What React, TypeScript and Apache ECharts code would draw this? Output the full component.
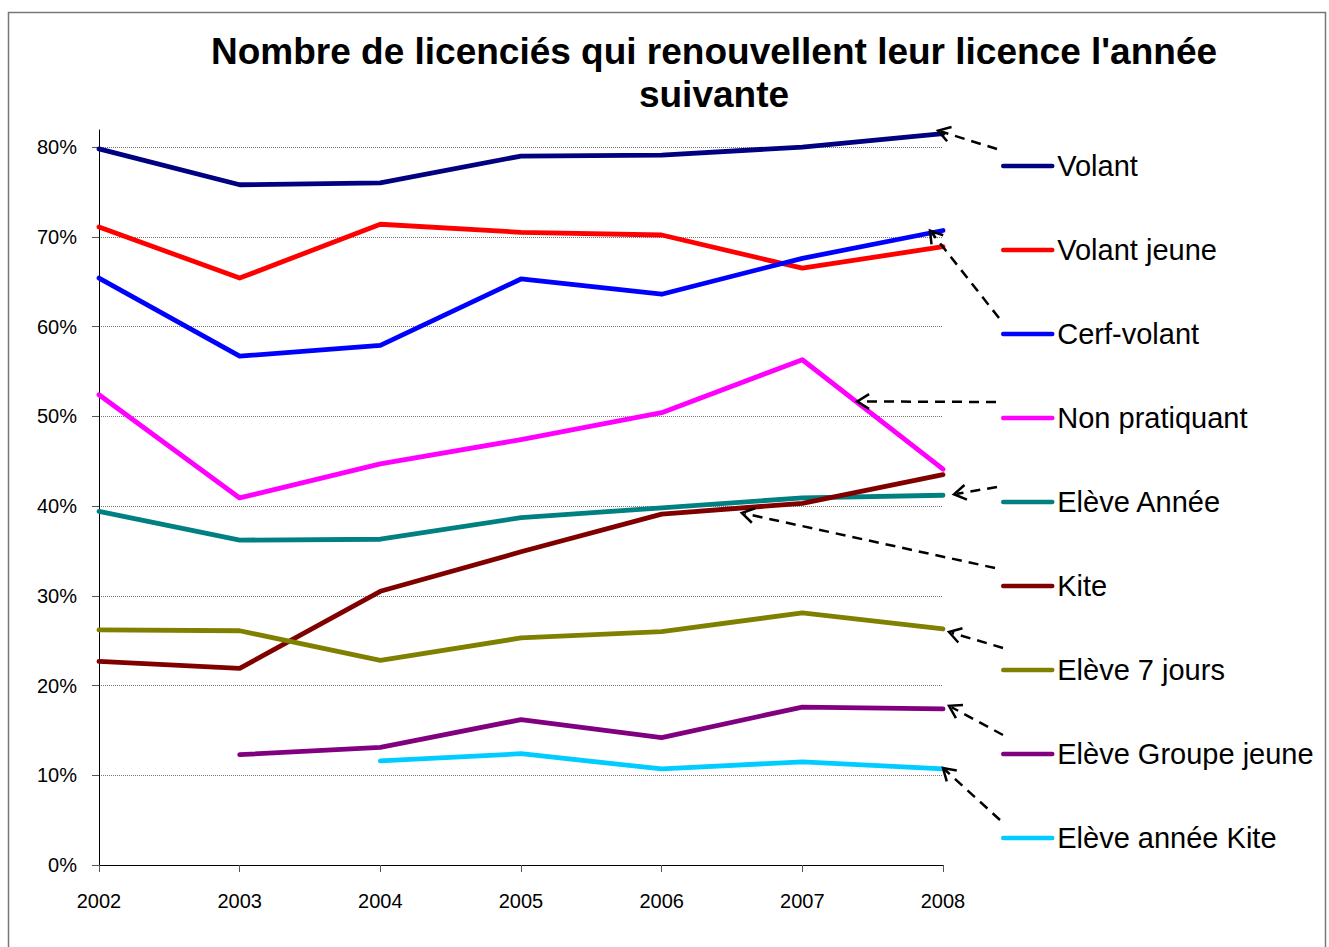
import React, { useEffect, useRef } from 'react';
import * as echarts from 'echarts';

const FONT = "'Liberation Sans', Arial, Helvetica, sans-serif";

const years = ['2002', '2003', '2004', '2005', '2006', '2007', '2008'];
const seriesNames = [
  'Volant',
  'Volant jeune',
  'Cerf-volant',
  'Non pratiquant',
  'Elève Année',
  'Kite',
  'Elève 7 jours',
  'Elève Groupe jeune',
  'Elève année Kite',
];
const volant = [0.798, 0.758, 0.76, 0.79, 0.791, 0.8, 0.815];
const volantJeune = [0.711, 0.654, 0.714, 0.705, 0.702, 0.665, 0.689];
const cerfVolant = [0.654, 0.567, 0.579, 0.653, 0.636, 0.676, 0.707];
const nonPratiquant = [0.524, 0.409, 0.447, 0.474, 0.504, 0.563, 0.441];
const eleveAnnee = [0.394, 0.362, 0.363, 0.387, 0.398, 0.409, 0.412];
const kite = [0.227, 0.219, 0.305, 0.349, 0.391, 0.403, 0.435];
const eleve7Jours = [0.262, 0.261, 0.228, 0.253, 0.26, 0.281, 0.263];
const eleveGroupeJeune = [null, 0.123, 0.131, 0.162, 0.142, 0.176, 0.174];
const eleveAnneeKite = [null, null, 0.116, 0.124, 0.107, 0.115, 0.107];
const seriesValues = [
  volant,
  volantJeune,
  cerfVolant,
  nonPratiquant,
  eleveAnnee,
  kite,
  eleve7Jours,
  eleveGroupeJeune,
  eleveAnneeKite,
];
const colors = ['#000080', '#FF0000', '#0000FF', '#FF00FF', '#008080', '#800000', '#808000', '#800080', '#00CCFF'];

// annotation arrows: series, segment [from,to] with fraction, tip offset, legend item, start offset from legend item
const arrows = [
  { s: 0, from: 6, to: 6, f: 0, tdx: -5, tdy: -3, item: 0, sdx: -4, sdy: -17 },
  { s: 2, from: 6, to: 6, f: 0, tdx: -13, tdy: 0, item: 2, sdx: -2, sdy: -16 },
  { s: 3, from: 5, to: 6, f: 0.39, tdx: 0, tdy: -1, item: 3, sdx: -5, sdy: -16 },
  { s: 4, from: 6, to: 6, f: 0, tdx: 11, tdy: -1, item: 4, sdx: -4, sdy: -15 },
  { s: 5, from: 4, to: 5, f: 0.57, tdx: 0, tdy: 5, item: 5, sdx: -6, sdy: -18 },
  { s: 6, from: 6, to: 6, f: 0, tdx: 6, tdy: 3, item: 6, sdx: 2, sdy: -22 },
  { s: 7, from: 6, to: 6, f: 0, tdx: 6, tdy: -3, item: 7, sdx: 2, sdy: -19 },
  { s: 8, from: 6, to: 6, f: 0, tdx: 0, tdy: -1, item: 8, sdx: -1, sdy: -18 },
];

const LEGEND_LEFT = 1001;
const LEGEND_TOP = 151;
const ITEM_H = 30;
const ITEM_GAP = 54;

export default function App() {
  const ref = useRef<HTMLDivElement>(null);

  useEffect(() => {
    if (!ref.current) return;
    const chart = echarts.init(ref.current, undefined, { renderer: 'svg' });
    chart.setOption({
      animation: false,
      backgroundColor: '#fff',
      title: {
        text: "Nombre de licenciés qui renouvellent leur licence l'année\nsuivante",
        left: 714,
        top: 30,
        textAlign: 'center',
        padding: 0,
        textStyle: { fontSize: 37, fontWeight: 'bold', lineHeight: 43, color: '#000', fontFamily: FONT },
      },
      legend: {
        orient: 'vertical',
        left: LEGEND_LEFT,
        top: LEGEND_TOP,
        padding: 0,
        itemWidth: 49,
        itemHeight: ITEM_H,
        itemGap: ITEM_GAP,
        selectedMode: false,
        data: seriesNames,
        itemStyle: { opacity: 0 },
        lineStyle: { width: 4.5, cap: 'round' },
        textStyle: { fontSize: 29, color: '#000', fontFamily: FONT, lineHeight: 30 },
      },
      grid: { left: 99, right: 386, top: 130, bottom: 82, containLabel: false },
      xAxis: {
        type: 'category',
        data: years,
        boundaryGap: false,
        axisLine: { show: true, lineStyle: { color: '#000', width: 1 } },
        axisTick: { show: true, length: 7, lineStyle: { color: '#555' } },
        axisLabel: { fontSize: 20, color: '#000', margin: 26, fontFamily: FONT },
        splitLine: { show: false },
      },
      yAxis: {
        type: 'value',
        min: 0,
        max: 0.819,
        interval: 0.1,
        axisLine: { show: true, lineStyle: { color: '#000', width: 1 } },
        axisTick: { show: true, length: 7, lineStyle: { color: '#555' } },
        axisLabel: {
          showMaxLabel: false,
          fontSize: 20,
          color: '#000',
          margin: 22,
          fontFamily: FONT,
          formatter: (v: number) => Math.round(v * 100) + '%',
        },
        splitLine: { show: true, showMaxLine: false, lineStyle: { color: '#777', type: 'dotted', width: 1 } },
      },
      series: seriesNames.map((name, i) => ({
        name,
        type: 'line',
        data: seriesValues[i],
        symbol: 'none',
        showSymbol: false,
        connectNulls: false,
        color: colors[i],
        lineStyle: { color: colors[i], width: 4.8, cap: 'round', join: 'round' },
        emphasis: { disabled: true },
      })),
    });

    const graphics: any[] = [
      {
        type: 'rect',
        shape: { x: 8.5, y: 12.5, width: 1317, height: 960 },
        style: { fill: 'none', stroke: '#777', lineWidth: 1.5 },
        silent: true,
        z: -1,
      },
    ];
    arrows.forEach((a) => {
      const vals = seriesValues[a.s];
      const p0 = chart.convertToPixel({ seriesIndex: a.s }, [a.from, vals[a.from]]) as number[];
      const p1 = chart.convertToPixel({ seriesIndex: a.s }, [a.to, vals[a.to]]) as number[];
      const tx = p0[0] + (p1[0] - p0[0]) * a.f + a.tdx;
      const ty = p0[1] + (p1[1] - p0[1]) * a.f + a.tdy;
      const cy = LEGEND_TOP + a.item * (ITEM_H + ITEM_GAP) + ITEM_H / 2;
      const sx = LEGEND_LEFT + a.sdx;
      const sy = cy + a.sdy;
      const dx = sx - tx;
      const dy = sy - ty;
      const len = Math.sqrt(dx * dx + dy * dy);
      const ux = dx / len;
      const uy = dy / len;
      const ang = (32 * Math.PI) / 180;
      const L = 14;
      const r1 = [ux * Math.cos(ang) - uy * Math.sin(ang), ux * Math.sin(ang) + uy * Math.cos(ang)];
      const r2 = [ux * Math.cos(-ang) - uy * Math.sin(-ang), ux * Math.sin(-ang) + uy * Math.cos(-ang)];
      graphics.push({
        type: 'line',
        shape: { x1: sx, y1: sy, x2: tx + ux * 3, y2: ty + uy * 3 },
        style: { stroke: '#000', lineWidth: 2.5, lineDash: [10, 7] },
        silent: true,
        z: 10,
      });
      graphics.push({
        type: 'polyline',
        shape: {
          points: [
            [tx + r1[0] * L, ty + r1[1] * L],
            [tx, ty],
            [tx + r2[0] * L, ty + r2[1] * L],
          ],
        },
        style: { stroke: '#000', lineWidth: 2.5, fill: 'none' },
        silent: true,
        z: 10,
      });
    });
    chart.setOption({ graphic: graphics });

    return () => chart.dispose();
  }, []);

  return (
    <div
      ref={ref}
      style={{ position: 'fixed', left: 0, top: 0, width: 1329, height: 947, background: '#fff' }}
    />
  );
}
